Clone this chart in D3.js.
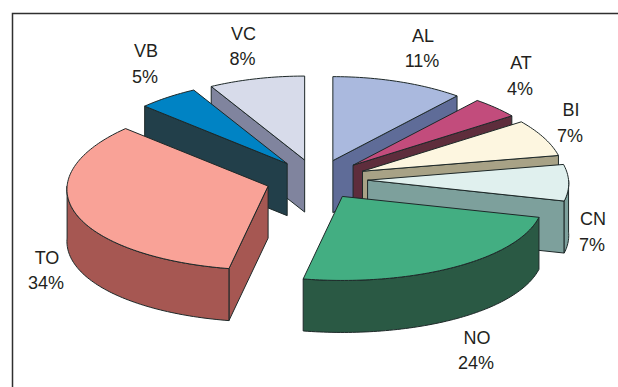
<!DOCTYPE html>
<html>
<head>
<meta charset="utf-8">
<script src="https://cdn.jsdelivr.net/npm/d3@7/dist/d3.min.js"></script>
<style>
  html, body { margin: 0; padding: 0; background: #fff; }
  svg { display: block; }
  text { font-family: "Liberation Sans", Arial, sans-serif; font-size: 18px; fill: #231f20; text-anchor: middle; }
</style>
</head>
<body>
<svg id="chart" width="618" height="387"></svg>
<script>
// Regional shares, clockwise from twelve o'clock
const categories = ["AL", "AT", "BI", "CN", "NO", "TO", "VB", "VC"];
const shares = [11, 4, 7, 7, 24, 34, 5, 8];
const topColors = ["#aab9de", "#c24c7c", "#fdf6e0", "#e0f0ee", "#43ae82", "#f9a297", "#0083c4", "#d7dbea"];
const sideColors = ["#5f6c98", "#5e2d3c", "#a8a286", "#7da09c", "#2a5944", "#a65752", "#223f4a", "#80849e"];
// Slices are painted back to front so nearer ones cover farther ones
const paintOrder = ["AL", "AT", "BI", "CN", "NO", "VC", "VB", "TO"];

// How far each slice is pulled out from the centre
const explodeBy = { AL: 48, AT: 50, BI: 50, CN: 51, NO: 48, TO: 51, VB: 48, VC: 48 };
// Baseline anchor of the name row, per category; the percentage sits one row below
const labelSpots = {
  AL: [423, 41.5], AT: [521, 69], BI: [571, 116], CN: [593, 225],
  NO: [477, 343.5], TO: [47, 263.5], VB: [146, 57], VC: [243.5, 39.5]
};

const centerX = 316.6, centerY = 179.5;
const radiusX = 201, radiusY = 84, tilt = radiusY / radiusX;
const perspective = 0.04; // far side of the pie reads slightly narrower than the near side
const depth = 52;
const frame = { left: 12.5, top: 13.5 };

const svg = d3.select("#chart");
const color = d3.scaleOrdinal(categories, topColors);
const shade = d3.scaleOrdinal(categories, sideColors);
const slices = d3.pie().sort(null).value(d => d.share)(
  categories.map((name, i) => ({ name, share: shares[i] }))
);

// Flat pie plane onto the tilted screen ellipse; angle 0 is up, increasing clockwise
const project = (a, r, cx, cy) => [
  cx + r * Math.sin(a) * (1 - perspective * Math.cos(a)),
  cy - r * tilt * Math.cos(a)
];
const line = d3.line();
const drop = ([x, y]) => [x, y + depth];

const arcPoints = (a0, a1, apex) => {
  const n = Math.max(2, Math.ceil(Math.abs(a1 - a0) / 0.02));
  return d3.range(n + 1).map(i => {
    const a = a0 + (a1 - a0) * i / n;
    return project(a, radiusX, apex[0], apex[1]);
  });
};

// Frame runs off the right and bottom of the canvas
svg.append("path")
  .attr("d", `M${frame.left},387V${frame.top}H618`)
  .attr("fill", "none").attr("stroke", "#2f2f2f").attr("stroke-width", 1.5);

const edge = sel => sel.attr("stroke", "#1d2828").attr("stroke-width", 1).attr("stroke-linejoin", "round");

paintOrder.forEach(name => {
  const s = slices.find(d => d.data.name === name);
  const mid = (s.startAngle + s.endAngle) / 2;
  const offset = explodeBy[name];
  const apex = [centerX + offset * Math.sin(mid), centerY - offset * tilt * Math.cos(mid)];
  const g = svg.append("g");

  // Cut wall facing the viewer: the end edge on the right half, the start edge on the left
  const wallAngle = mid < Math.PI ? s.endAngle : s.startAngle;
  if (Math.sin(wallAngle) * (mid < Math.PI ? 1 : -1) > 0) {
    const rimPt = project(wallAngle, radiusX, apex[0], apex[1]);
    g.append("path")
      .attr("d", line([apex, rimPt, drop(rimPt), drop(apex)]) + "Z")
      .attr("fill", shade(name)).call(edge);
  }

  // Outer wall on the near half of the ellipse only
  const a0 = Math.max(s.startAngle, Math.PI / 2);
  const a1 = Math.min(s.endAngle, Math.PI * 1.5);
  if (a1 > a0) {
    const rim = arcPoints(a0, a1, apex);
    g.append("path")
      .attr("d", line(rim.concat(rim.slice().reverse().map(drop))) + "Z")
      .attr("fill", shade(name)).call(edge);
  }

  // Top face
  g.append("path")
    .attr("d", line([apex].concat(arcPoints(s.startAngle, s.endAngle, apex))) + "Z")
    .attr("fill", color(name)).call(edge);
});

// Name above, percentage below
slices.forEach(s => {
  const [x, y] = labelSpots[s.data.name];
  const t = svg.append("text").attr("x", x).attr("y", y);
  t.append("tspan").attr("x", x).attr("dy", 0).text(s.data.name);
  t.append("tspan").attr("x", x - 1).attr("dy", 25.5).text(`${s.data.share}%`);
});
</script>
</body>
</html>
